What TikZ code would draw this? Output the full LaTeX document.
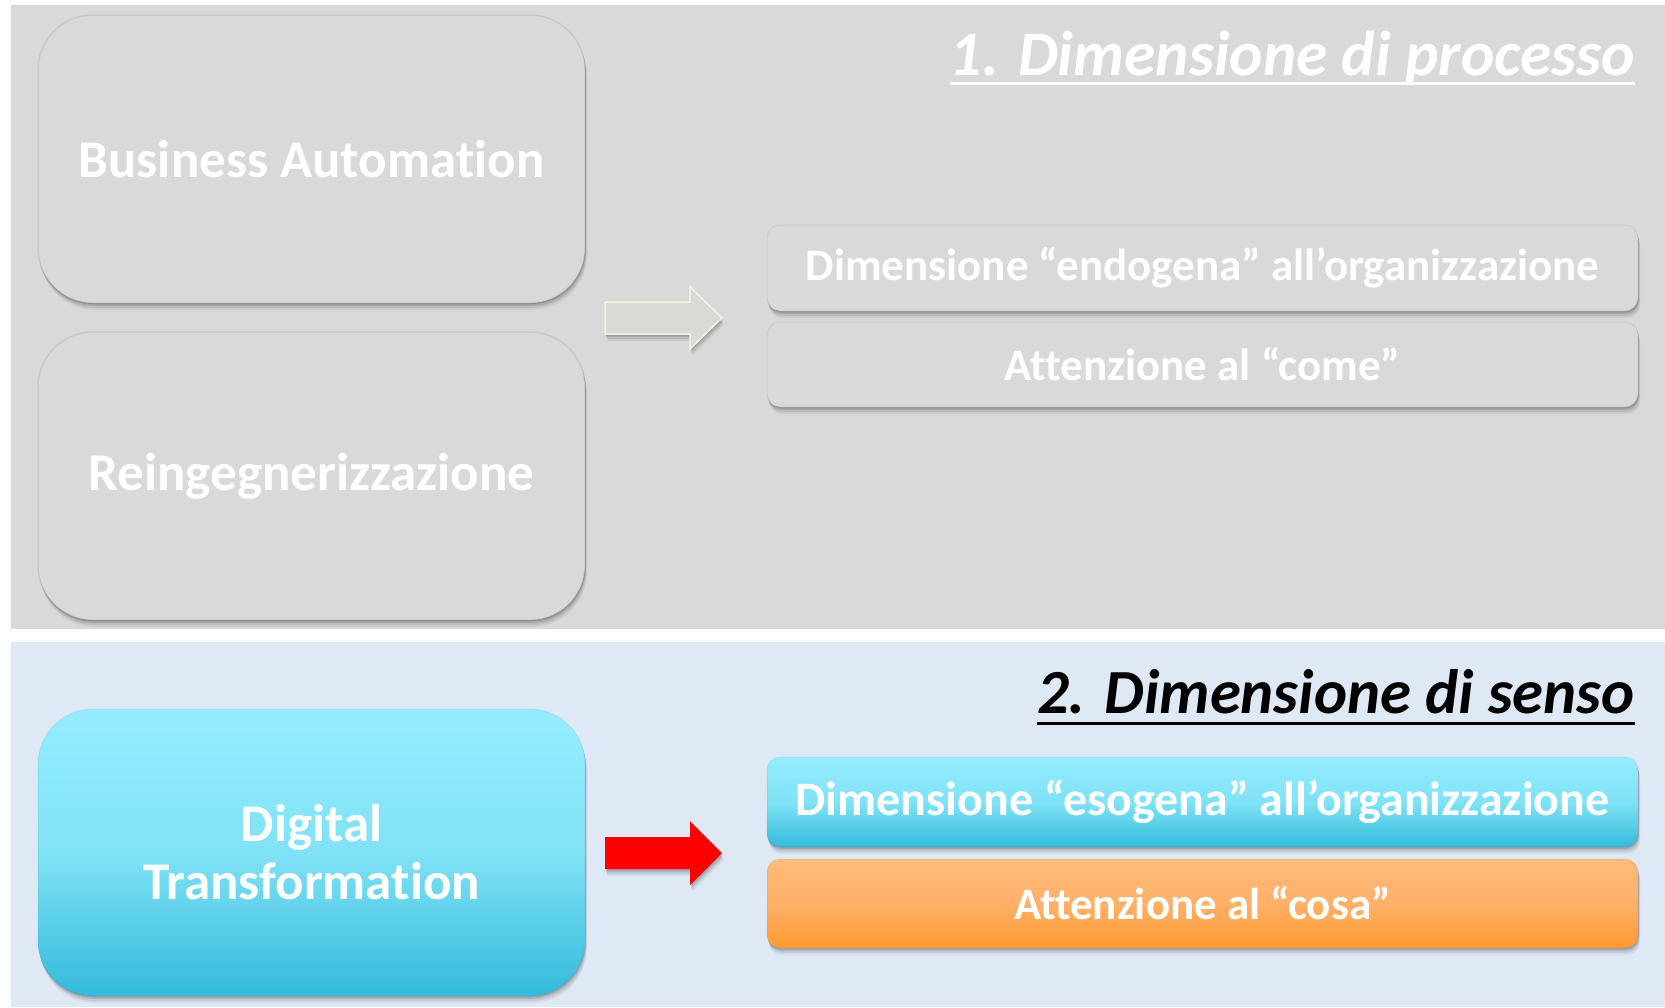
\documentclass[tikz,border=0pt]{standalone}
\usepackage{fontspec}
\setmainfont{Carlito}[Ligatures=NoCommon]
\usetikzlibrary{shadows,calc}
\definecolor{panelgray}{HTML}{D9D9D9}
\definecolor{panelblue}{HTML}{DFE9F5}
\definecolor{cyantop}{HTML}{95EDFF}
\definecolor{cyanmid}{HTML}{80E2F5}
\definecolor{cyanbot}{HTML}{33BBDB}
\definecolor{orangetop}{HTML}{FFBB7B}
\definecolor{orangemid}{HTML}{FFB068}
\definecolor{orangebot}{HTML}{FF9A30}
\definecolor{arrowgray}{HTML}{DADAD5}
\definecolor{arrowedge}{HTML}{F2F2E4}
\tikzset{
  softshadow/.style={
    drop shadow={opacity=0.10, shadow xshift=0.5pt, shadow yshift=-1.5pt, fill=black},
    drop shadow={opacity=0.10, shadow xshift=1pt, shadow yshift=-3pt, fill=black},
    drop shadow={opacity=0.08, shadow xshift=1.5pt, shadow yshift=-5pt, fill=black},
    drop shadow={opacity=0.05, shadow xshift=2pt, shadow yshift=-7pt, fill=black}},
  bigbox/.style={rectangle, rounded corners=55pt, minimum width=547pt, minimum height=288pt,
    text=white, font=\fontsize{53}{58}\selectfont\bfseries, align=center, softshadow,
    draw=black, draw opacity=0.07, line width=1.5pt},
  smallbox/.style={rectangle, rounded corners=13pt, minimum width=871pt,
    text=white, font=\fontsize{45}{48}\selectfont\bfseries, align=center, softshadow,
    draw=black, draw opacity=0.05, line width=1pt},
  graybox/.style={fill=panelgray},
  cyanbox/.style={top color=cyantop, bottom color=cyanbot, middle color=cyanmid},
  orangebox/.style={top color=orangetop, bottom color=orangebot, middle color=orangemid},
  titletext/.style={anchor=base east, inner sep=0pt, font=\fontsize{63.4}{70}\selectfont\bfseries\itshape},
}
\begin{document}
\begin{tikzpicture}[x=1pt,y=-1pt]
\useasboundingbox (0,0) rectangle (1665,1007);
\fill[white] (0,0) rectangle (1665,1007);
\fill[panelgray] (10.6,5) rectangle (1665,629);
\fill[panelblue] (10.6,642) rectangle (1665,1007);

% top panel
\node[bigbox, graybox] (ba) at (311.5,159) {Business Automation};
\node[bigbox, graybox] (re) at (311.5,476) {Reingegnerizzazione};
\node[smallbox, graybox, minimum height=86pt] (en) at (1202.5,268) {Dimensione “endogena” all’organizzazione};
\node[smallbox, graybox, minimum height=85pt] (co) at (1202.5,364.5) {Attenzione al “come”};
\node[titletext, text=white] (t1) at (1635,75) {1. Dimensione di processo};
\draw[white, line width=3pt] ($(t1.base west)+(0,8)$) -- ($(t1.base east)+(0,8)$);

% gray block arrow
\coordinate (g0) at (605,318);
\filldraw[fill=arrowgray, draw=arrowedge, line width=1.5pt, softshadow]
  ($(g0)+(0,-16)$) -- ($(g0)+(85,-16)$) -- ($(g0)+(85,-31)$) -- ($(g0)+(117,0)$)
  -- ($(g0)+(85,31)$) -- ($(g0)+(85,16)$) -- ($(g0)+(0,16)$) -- cycle;

% bottom panel
\node[bigbox, cyanbox, minimum height=287pt, draw opacity=0.03] (dt) at (311.5,852.5) {Digital\\Transformation};
\node[smallbox, cyanbox, minimum height=90pt, font=\fontsize{48}{50}\selectfont\bfseries] (es) at (1202.5,802) {Dimensione “esogena” all’organizzazione};
\node[smallbox, orangebox, minimum height=89pt] (cs) at (1202.5,903.5) {Attenzione al “cosa”};
\node[titletext, text=black, font=\fontsize{62.8}{70}\selectfont\bfseries\itshape] (t2) at (1635,713) {2. Dimensione di senso};
\draw[black, line width=3pt] ($(t2.base west)+(0,10)$) -- ($(t2.base east)+(0,10)$);

% red block arrow
\coordinate (r0) at (605,853);
\fill[red, softshadow]
  ($(r0)+(0,-16)$) -- ($(r0)+(85,-16)$) -- ($(r0)+(85,-32)$) -- ($(r0)+(117,0)$)
  -- ($(r0)+(85,32)$) -- ($(r0)+(85,16)$) -- ($(r0)+(0,16)$) -- cycle;
\end{tikzpicture}
\end{document}
